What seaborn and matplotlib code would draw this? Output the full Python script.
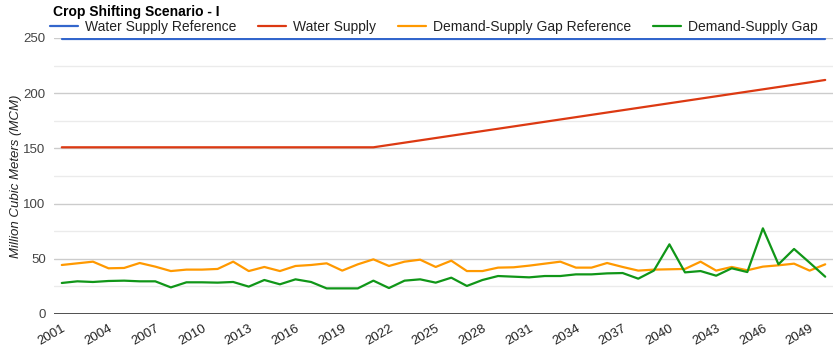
import matplotlib
matplotlib.use("Agg")
import matplotlib.pyplot as plt
import seaborn as sns
import pandas as pd

# data
years = list(range(2001, 2051))
water_supply_ref = [249] * 50
water_supply = [151] * 21 + [153.1, 155.2, 157.3, 159.4, 161.5, 163.6, 165.7, 167.8, 169.9,
                             172.0, 174.1, 176.2, 178.3, 180.4, 182.5, 184.6, 186.7, 188.8,
                             190.9, 193.0, 195.1, 197.2, 199.3, 201.4, 203.5, 205.6, 207.7,
                             209.8, 212.0]
gap_ref = [44.4, 45.9, 47.4, 41.4, 41.7, 46.2, 42.9, 38.9, 40.2, 40.2,
           40.8, 47.4, 38.9, 42.6, 38.9, 43.5, 44.4, 45.9, 39.3, 45.0,
           49.5, 43.5, 47.4, 49.2, 42.6, 48.3, 38.9, 38.9, 42.0, 42.3,
           43.8, 45.6, 47.4, 42.0, 42.0, 46.2, 42.6, 39.3, 40.2, 40.5,
           40.8, 47.4, 39.3, 42.6, 39.6, 42.9, 44.1, 45.6, 39.3, 45.0]
gap = [28.1, 29.6, 29.0, 29.9, 30.2, 29.6, 29.6, 24.1, 28.7, 28.7,
       28.4, 29.0, 24.8, 30.8, 26.9, 31.4, 29.0, 23.2, 23.2, 23.2,
       30.2, 23.5, 30.2, 31.4, 28.4, 32.9, 25.4, 30.8, 34.4, 33.8,
       33.2, 34.4, 34.4, 35.9, 35.9, 36.8, 37.1, 32.0, 39.3, 63.1,
       37.7, 38.9, 34.7, 41.4, 38.0, 77.6, 45.0, 58.9, 46.5, 33.8]

series_names = ["Water Supply Reference", "Water Supply",
                "Demand-Supply Gap Reference", "Demand-Supply Gap"]
colors = ["#3366cc", "#dc3912", "#ff9900", "#109618"]

idx = list(range(len(years)))
df = pd.concat([
    pd.DataFrame({"idx": idx, "value": vals, "series": name})
    for name, vals in zip(series_names, [water_supply_ref, water_supply, gap_ref, gap])
])

sns.set_theme(style="white")
plt.rcParams["font.family"] = ["Liberation Sans", "DejaVu Sans"]

fig = plt.figure(figsize=(8.35, 3.55), dpi=100)
ax = fig.add_axes([54 / 835, 41 / 355, 779 / 835, 276 / 355])

sns.lineplot(data=df, x="idx", y="value", hue="series", hue_order=series_names,
             palette=colors, linewidth=1.6, ax=ax, legend=False)

ax.set_xlim(-0.5, 49.5)
ax.set_ylim(0, 250)
ax.set_yticks([0, 50, 100, 150, 200, 250])
ax.set_yticks([25, 75, 125, 175, 225], minor=True)
ax.grid(axis="y", which="major", color="#cccccc", linewidth=1)
ax.grid(axis="y", which="minor", color="#ebebeb", linewidth=1)
ax.set_axisbelow(True)
for s in ax.spines.values():
    s.set_visible(False)
ax.axhline(0, color="#333333", linewidth=1.2)

tick_pos = list(range(0, 50, 3))
ax.set_xticks(tick_pos)
ax.set_xticklabels([str(years[i]) for i in tick_pos], rotation=30, ha="right",
                   rotation_mode="anchor", fontsize=9.5, color="#222222")
ax.tick_params(axis="x", length=0, pad=6)
ax.tick_params(axis="y", length=0, pad=6, labelsize=9.5, labelcolor="#444444")
ax.set_xlabel("")
ax.set_ylabel("Million Cubic Meters (MCM)", fontsize=9.5, style="italic",
              color="#222222", labelpad=1)

fig.text(53 / 835, 1 - 12 / 355, "Crop Shifting Scenario - I", fontsize=10,
         fontweight="bold", va="center", ha="left", color="#000000")

handles = [plt.Line2D([], [], color=c, linewidth=1.6) for c in colors]
fig.legend(handles, series_names, loc="center left",
           bbox_to_anchor=(50 / 835, 1 - 27 / 355), ncol=4, frameon=False,
           fontsize=10, handlelength=2.0, handletextpad=0.5, columnspacing=1.6,
           borderpad=0, borderaxespad=0, labelcolor="#222222")

fig.savefig("out.png", dpi=100)
